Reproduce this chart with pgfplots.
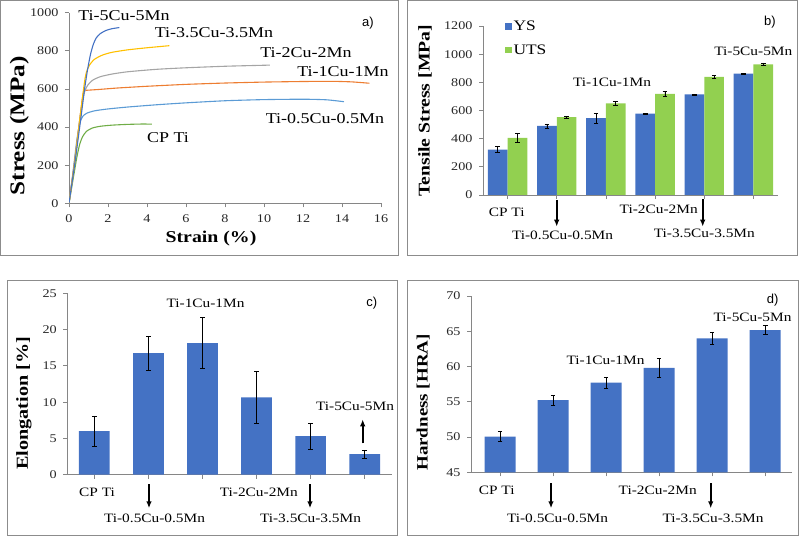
\documentclass[border=0pt]{standalone}
\usepackage{fontspec}
\setmainfont{Liberation Serif}[FakeStretch=1.2]
\newfontfamily\sansf{Liberation Sans}
\usepackage{pgfplots}
\pgfplotsset{compat=1.18}
\usetikzlibrary{arrows.meta}
\definecolor{barblue}{HTML}{4472C4}
\definecolor{bargreen}{HTML}{92D050}
\definecolor{cblue}{HTML}{4472C4}
\definecolor{cyellow}{HTML}{FFC000}
\definecolor{cgrey}{HTML}{A5A5A5}
\definecolor{corange}{HTML}{ED7D31}
\definecolor{clblue}{HTML}{5B9BD5}
\definecolor{cgreen}{HTML}{70AD47}
\definecolor{axgray}{HTML}{868686}
\definecolor{framegray}{HTML}{8C8C8C}
\pgfplotsset{
  base/.style={
    scale only axis,
    anchor=south west,
    axis lines=left,
    axis line style={-, axgray, line width=0.8pt},
    tick align=outside,
    major tick length=4pt,
    every tick/.style={axgray, line width=0.8pt},
    tick label style={font=\fontsize{11.8}{12}\selectfont, text=black!85},
    yticklabel style={xshift=-3pt},
    /pgf/number format/assume math mode=true,
    /pgf/number format/1000 sep={},
  },
  barax/.style={
    base, xtick={0,...,5}, xticklabels={{},{},{},{},{},{}},
  },
  ebar/.style={
    error bars/.cd, y dir=both, y explicit,
    error mark=-,
    error bar style={black, line width=0.7pt},
    error mark options={rotate=90, black, line width=0.7pt, mark size=2.3pt},
  },
}
\newcommand{\lbl}{\fontsize{12.8}{14}\selectfont}
\newcommand{\lbla}{\fontsize{15}{17}\selectfont}
\tikzset{arr/.style={line width=1.6pt, -{Latex[length=7pt, width=5.5pt]}}}
\begin{document}
\begin{tikzpicture}[x=1pt, y=1pt]
\useasboundingbox (0,0) rectangle (799,536);
% frames
\draw[framegray, line width=0.8pt] (0.6,281) rectangle (398,535.4);
\draw[framegray, line width=0.8pt] (407,281) rectangle (797,535.4);
\draw[framegray, line width=0.8pt] (7,1) rectangle (397,256);
\draw[framegray, line width=0.8pt] (407,1) rectangle (798,256);

% ---------- a) ----------
\begin{axis}[base, at={(69pt,332.7pt)}, width=312pt, height=190.6pt,
  xmin=0, xmax=16, ymin=0, ymax=1000,
  xtick={0,2,...,16}, ytick={0,200,...,1000},
  xticklabel style={yshift=-4pt}]
\addplot[cgreen, line width=1.1pt, smooth, tension=0.4] coordinates {
(0,0) (0.2,120) (0.4,240) (0.55,310) (0.7,350) (0.9,378) (1.2,395) (1.6,404) (2.2,410) (3,414) (3.8,416) (4.25,415)};
\addplot[clblue, line width=1.1pt, smooth, tension=0.4] coordinates {
(0,0) (0.2,160) (0.4,330) (0.55,420) (0.7,455) (0.9,472) (1.3,485) (2,495) (3,505) (4.5,517) (6,527) (8,538) (10,544) (12,546) (13.2,543) (14.1,533)};
\addplot[corange, line width=1.1pt, smooth, tension=0.3] coordinates {
(0,0) (0.3,230) (0.55,440) (0.7,560) (0.77,592) (0.9,593) (1.5,597) (2.5,605) (4,614) (6,624) (8,631) (10,636) (12,639) (13.5,640) (14.5,637) (15.4,630)};
\addplot[cgrey, line width=1.1pt, smooth, tension=0.4] coordinates {
(0,0) (0.3,220) (0.55,440) (0.7,540) (0.8,585) (0.95,618) (1.2,645) (1.6,664) (2.2,678) (3,690) (4.5,703) (6,711) (8,719) (9.5,723) (10.3,725)};
\addplot[cyellow, line width=1.1pt, smooth, tension=0.4] coordinates {
(0,0) (0.3,220) (0.6,480) (0.8,640) (0.9,690) (1.05,725) (1.3,755) (1.7,777) (2.2,792) (3,805) (4,816) (5.15,827)};
\addplot[cblue, line width=1.1pt, smooth, tension=0.4] coordinates {
(0,0) (0.3,210) (0.6,440) (0.8,600) (0.95,700) (1.1,780) (1.25,835) (1.4,868) (1.6,890) (1.9,907) (2.2,916) (2.58,922)};
\end{axis}
\node[font=\lbla] at (124,520) {Ti-5Cu-5Mn};
\node[font=\lbla] at (214,503) {Ti-3.5Cu-3.5Mn};
\node[font=\lbla] at (306,483) {Ti-2Cu-2Mn};
\node[font=\lbla] at (343,464) {Ti-1Cu-1Mn};
\node[font=\lbla] at (325,417) {Ti-0.5Cu-0.5Mn};
\node[font=\lbla] at (168,398) {CP Ti};
\node[font=\sansf\fontsize{13}{15}\selectfont] at (368,513) {a)};
\node[font=\bfseries\fontsize{21}{22}\selectfont, rotate=90] at (19.2,410.2) {Stress (MPa)};
\node[font=\bfseries\fontsize{16.5}{18}\selectfont] at (211,297.7) {Strain (\%)};

% ---------- b) ----------
\begin{axis}[barax, at={(483pt,341pt)}, width=295pt, height=169pt,
  xmin=-0.5, xmax=5.5, ymin=0, ymax=1200, ytick={0,200,...,1200},
  ybar=0pt, bar width=19.7pt,
  legend style={at={(0.075,1.04)}, anchor=north west, draw=none, fill=none,
    font=\fontsize{14.5}{16}\selectfont, row sep=9.5pt, inner sep=0pt,
    nodes={inner sep=1.5pt}},
  legend cell align=left,
  legend image code/.code={\fill[#1] (0pt,-3.35pt) rectangle (6.7pt,3.35pt);}]
\addplot[fill=barblue, draw=none, ebar] coordinates {
(0,322) +- (0,20) (1,490) +- (0,15) (2,545) +- (0,35) (3,577) +- (0,3) (4,714) +- (0,4) (5,862) +- (0,4)};
\addplot[fill=bargreen, draw=none, ebar] coordinates {
(0,405) +- (0,30) (1,553) +- (0,6) (2,651) +- (0,12) (3,718) +- (0,20) (4,838) +- (0,10) (5,928) +- (0,10)};
\legend{YS, UTS}
\end{axis}
\node[font=\sansf\fontsize{13}{15}\selectfont] at (770,514.3) {b)};
\node[font=\lbl] at (506.7,324) {CP Ti};
\draw[arr] (556.7,336) -- (556.7,309.3);
\node[font=\lbl] at (562.5,301) {Ti-0.5Cu-0.5Mn};
\node[font=\lbl] at (612,453.3) {Ti-1Cu-1Mn};
\node[font=\lbl] at (658.7,326.7) {Ti-2Cu-2Mn};
\draw[arr] (702.7,336.7) -- (702.7,309.3);
\node[font=\lbl] at (704.3,302.7) {Ti-3.5Cu-3.5Mn};
\node[font=\lbl] at (753.3,484.3) {Ti-5Cu-5Mn};
\node[font=\bfseries\fontsize{16.4}{18}\selectfont, rotate=90] at (425,425.2) {Tensile Stress [MPa]};

% ---------- c) ----------
\begin{axis}[barax, at={(67.3pt,61.3pt)}, width=324.4pt, height=181.4pt,
  xmin=-0.5, xmax=5.5, ymin=0, ymax=25, ytick={0,5,...,25},
  ybar, bar width=30.7pt]
\addplot[fill=barblue, draw=none, ebar] coordinates {
(0,6.0) +- (0,2.1) (1,16.75) +- (0,2.3) (2,18.15) +- (0,3.5) (3,10.65) +- (0,3.6) (4,5.3) +- (0,1.8) (5,2.85) +- (0,0.55)};
\end{axis}
\node[font=\sansf\fontsize{13}{15}\selectfont] at (371.7,232.7) {c)};
\node[font=\lbl] at (205.5,232.7) {Ti-1Cu-1Mn};
\node[font=\lbl] at (97,43.3) {CP Ti};
\draw[arr] (149,51.7) -- (149,27.7);
\node[font=\lbl] at (154.5,17.7) {Ti-0.5Cu-0.5Mn};
\node[font=\lbl] at (258.8,43.3) {Ti-2Cu-2Mn};
\draw[arr] (310,51.7) -- (310,27.7);
\node[font=\lbl] at (310.5,17.7) {Ti-3.5Cu-3.5Mn};
\node[font=\lbl] at (355,130) {Ti-5Cu-5Mn};
\draw[arr] (362.7,92.7) -- (362.7,116.7);
\node[font=\bfseries\fontsize{16.8}{18}\selectfont, rotate=90] at (24,132.7) {Elongation [\%]};

% ---------- d) ----------
\begin{axis}[barax, at={(471pt,63.7pt)}, width=320.7pt, height=176.3pt,
  xmin=-0.55, xmax=5.5, ymin=45, ymax=70, ytick={45,50,...,70},
  ybar, bar width=31pt]
\addplot[fill=barblue, draw=none, ebar] coordinates {
(0,50.05) +- (0,0.7) (1,55.25) +- (0,0.7) (2,57.7) +- (0,0.75) (3,59.8) +- (0,1.3) (4,64.0) +- (0,0.85) (5,65.15) +- (0,0.65)};
\end{axis}
\node[font=\sansf\fontsize{13}{15}\selectfont] at (772.7,236) {d)};
\node[font=\lbl] at (752.5,218.3) {Ti-5Cu-5Mn};
\node[font=\lbl] at (605.5,176) {Ti-1Cu-1Mn};
\node[font=\lbl] at (496.7,46) {CP Ti};
\draw[arr] (551,52.7) -- (551,27.7);
\node[font=\lbl] at (557.5,17.7) {Ti-0.5Cu-0.5Mn};
\node[font=\lbl] at (657.7,46) {Ti-2Cu-2Mn};
\draw[arr] (710.7,52.7) -- (710.7,27.7);
\node[font=\lbl] at (713,17.7) {Ti-3.5Cu-3.5Mn};
\node[font=\bfseries\fontsize{15.8}{17}\selectfont, rotate=90] at (423.3,133.5) {Hardness [HRA]};
\end{tikzpicture}
\end{document}
